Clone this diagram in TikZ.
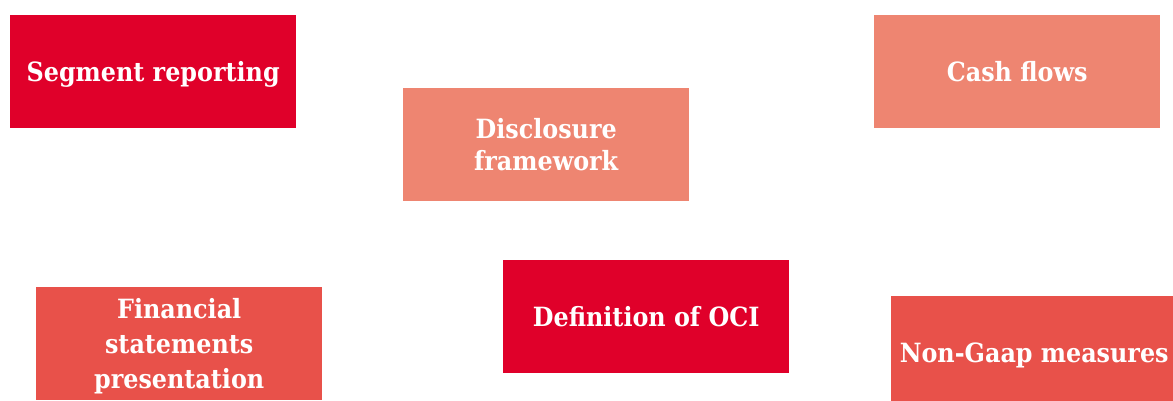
\documentclass[tikz,border=0pt]{standalone}
\usepackage{fontspec}
\setmainfont{DejaVu Serif Condensed}
\definecolor{pwcred}{HTML}{E0002A}
\definecolor{pwcsalmon}{HTML}{EE8571}
\definecolor{pwcmid}{HTML}{E8514A}
\begin{document}
\begin{tikzpicture}[x=1pt,y=-1pt,
  topic/.style={fill=#1, text=white, font=\bfseries\fontsize{26.5}{32.4}\selectfont,
    align=center, minimum width=286pt, minimum height=113pt, inner sep=0pt,
    text height=19.4pt, text depth=0pt, anchor=north west}]
\useasboundingbox (0,0) rectangle (1173,400);
% top row
\node[topic=pwcred] (seg) at (10,15) {Segment reporting};
\node[topic=pwcsalmon, text height=51.8pt] (disc) at (403,88) {Disclosure\\framework};
\node[topic=pwcsalmon] (cash) at (874,15) {Cash flows};
% bottom row, running off the lower edge
\node[topic=pwcmid, text height=89.4pt] (fin) at (36,287)
  {Financial\\[2.6pt]statements\\[2.6pt]presentation};
\node[topic=pwcred] (oci) at (503,260) {Definition of OCI};
\node[topic=pwcmid] (ngaap) at (891,296) {Non-Gaap measures};
\end{tikzpicture}
\end{document}
